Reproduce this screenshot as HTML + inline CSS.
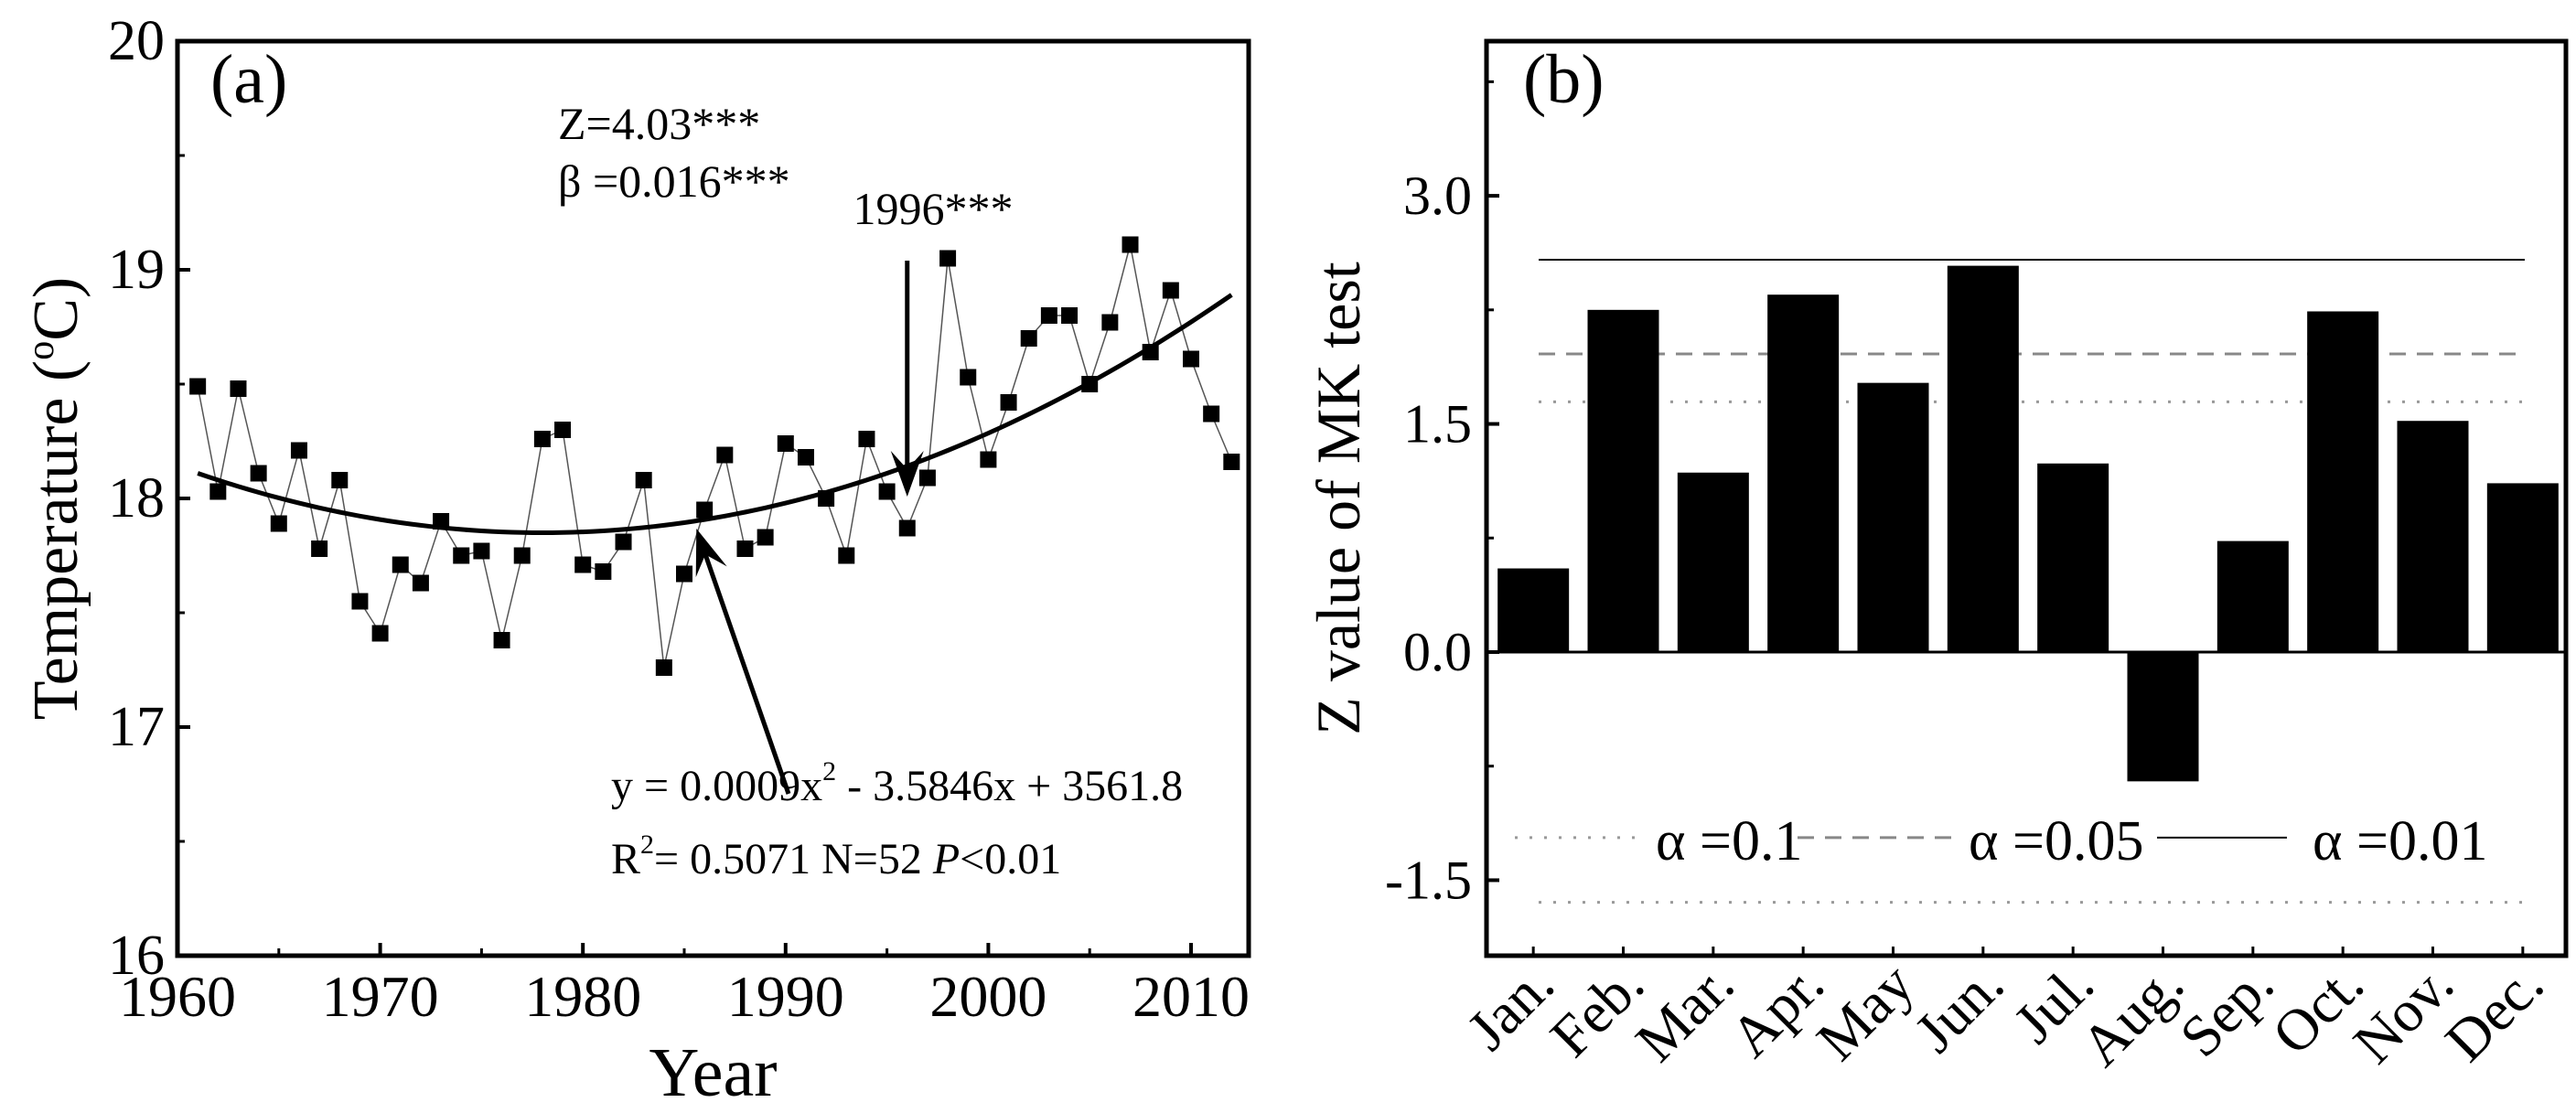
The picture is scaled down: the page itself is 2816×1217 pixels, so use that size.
<!DOCTYPE html>
<html><head><meta charset="utf-8">
<style>
html,body{margin:0;padding:0;background:#fff;}
svg{display:block;font-family:"Liberation Serif",serif;}
</style></head>
<body>
<svg id="chart" width="2816" height="1217" viewBox="0 0 2816 1217" xmlns="http://www.w3.org/2000/svg">
<g id="pa"></g>
<g id="pb"></g>
</svg>
<script>
// Panel (a) data
const years = [1961,1962,1963,1964,1965,1966,1967,1968,1969,1970,1971,1972,1973,1974,1975,1976,1977,1978,1979,1980,1981,1982,1983,1984,1985,1986,1987,1988,1989,1990,1991,1992,1993,1994,1995,1996,1997,1998,1999,2000,2001,2002,2003,2004,2005,2006,2007,2008,2009,2010,2011,2012];
const temps = [18.49,18.03,18.48,18.11,17.89,18.21,17.78,18.08,17.55,17.41,17.71,17.63,17.90,17.75,17.77,17.38,17.75,18.26,18.30,17.71,17.68,17.81,18.08,17.26,17.67,17.95,18.19,17.78,17.83,18.24,18.18,18.00,17.75,18.26,18.03,17.87,18.09,19.05,18.53,18.17,18.42,18.70,18.80,18.80,18.50,18.77,19.11,18.64,18.91,18.61,18.37,18.16];
const fitVertex = [1978, 17.85];
const fitCurv = 0.0009;
const aXTicks = [1960,1970,1980,1990,2000,2010];
const aYTicks = [16,17,18,19,20];
// Panel (b) data
const months = ["Jan.","Feb.","Mar.","Apr.","May","Jun.","Jul.","Aug.","Sep.","Oct.","Nov.","Dec."];
const zvals = [0.55,2.25,1.18,2.35,1.77,2.54,1.24,-0.85,0.73,2.24,1.52,1.11];
const bYTicks = [-1.5,0.0,1.5,3.0];
const bYTickLabels = ["-1.5","0.0","1.5","3.0"];
const critLevels = [2.58,1.96,1.645,-1.645];

const NS="http://www.w3.org/2000/svg";
function mk(parent,tag,attrs,text){const e=document.createElementNS(NS,tag);for(const k in attrs)e.setAttribute(k,attrs[k]);if(text!==undefined)e.textContent=text;parent.appendChild(e);return e;}

// ---------- Panel A ----------
const pa=document.getElementById('pa');
const aL=194,aR=1365,aT=45,aB=1045;
const ax=v=>aL+(v-1960)*(1302-194)/50;
const ay=v=>aB-(v-16)*(aB-aT)/4;
let r=mk(pa,'rect',{x:aL,y:aT,width:aR-aL,height:aB-aT,fill:'none',stroke:'#000','stroke-width':5});


aXTicks.forEach(t=>{
  let l=mk(pa,'line',{x1:ax(t),x2:ax(t),y1:aB,y2:aB-14,stroke:'#000','stroke-width':4});
  
  
  let tx=mk(pa,'text',{x:ax(t),y:aB+66,'font-size':64,'text-anchor':'middle'},String(t));
  
  
  if(t+5<2013){let m=mk(pa,'line',{x1:ax(t+5),x2:ax(t+5),y1:aB,y2:aB-8,stroke:'#000','stroke-width':3});
  
  }
});
aYTicks.forEach(t=>{
  let l=mk(pa,'line',{x1:aL,x2:aL+14,y1:ay(t),y2:ay(t),stroke:'#000','stroke-width':4});
  
  
  let tx=mk(pa,'text',{x:aL-14,y:ay(t)+20,'font-size':62,'text-anchor':'end'},String(t));
  
  
  if(t<20){let m=mk(pa,'line',{x1:aL,x2:aL+8,y1:ay(t+0.5),y2:ay(t+0.5),stroke:'#000','stroke-width':3});
  
  }
});
let xt=mk(pa,'text',{x:(aL+aR)/2,y:1198,'font-size':76,'text-anchor':'middle'},'Year');


let yt=mk(pa,'text',{x:0,y:0,'font-size':70,'text-anchor':'middle',transform:`translate(84,${(aT+aB)/2}) rotate(-90)`});


yt.innerHTML='Temperature (<tspan font-size="42" dy="-26">o</tspan><tspan dy="26">C)</tspan>';
let pl=mk(pa,'polyline',{points:years.map((y,i)=>ax(y)+','+ay(temps[i])).join(' '),fill:'none',stroke:'#555','stroke-width':1.5});


let fp=[];for(let y=1961;y<=2012;y+=0.5){fp.push(ax(y)+','+ay(fitVertex[1]+fitCurv*(y-fitVertex[0])**2));}
let fc=mk(pa,'polyline',{points:fp.join(' '),fill:'none',stroke:'#000','stroke-width':5});


years.forEach((y,i)=>{
  let s=mk(pa,'rect',{x:ax(y)-9,y:ay(temps[i])-9,width:18,height:18,fill:'#000'});
  
  
});
function txt(p,x,y,size,html,name,anchor){let t=mk(p,'text',{x:x,y:y,'font-size':size,'text-anchor':anchor||'start'});t.innerHTML=html;return t;}
txt(pa,230,112,76,'(a)','panel-a-label');
txt(pa,610,152,50,'Z=4.03***','z-statistic');
txt(pa,610,215,50,'β =0.016***','beta-statistic');
txt(pa,1020,245,50,'1996***','change-point-label','middle');
txt(pa,668,875,48,'y = 0.0009x<tspan font-size="30" dy="-22">2</tspan><tspan dy="22"> - 3.5846x + 3561.8</tspan>','fit-equation');
txt(pa,668,955,48,'R<tspan font-size="30" dy="-22">2</tspan><tspan dy="22">= 0.5071 N=52 </tspan><tspan font-style="italic">P</tspan>&lt;0.01','fit-stats');
function arrow(p,x1,y1,x2,y2,name){
  const g=mk(p,'g',{});
  const a=Math.atan2(y2-y1,x2-x1),L=50,W=18;
  mk(g,'line',{x1:x1,y1:y1,x2:x2-Math.cos(a)*20,y2:y2-Math.sin(a)*20,stroke:'#000','stroke-width':5});
  const bx=x2-Math.cos(a)*L,by=y2-Math.sin(a)*L,mx=x2-Math.cos(a)*L*0.6,my=y2-Math.sin(a)*L*0.6;
  mk(g,'polygon',{points:`${x2},${y2} ${bx+Math.sin(a)*W},${by-Math.cos(a)*W} ${mx},${my} ${bx-Math.sin(a)*W},${by+Math.cos(a)*W}`,fill:'#000'});
}
arrow(pa,ax(1996),285,ax(1996),543,'change-point-arrow');
arrow(pa,862,868,ax(1985.6),578,'fit-arrow');

// ---------- Panel B ----------
const pb=document.getElementById('pb');
const bL=1625,bR=2805,bT=45,bB=1045;
const by_=v=>713-v*166.3;
const bw=(bR-bL)/12;
const bx=i=>bL+bw*(i+0.5)+2;
let rb=mk(pb,'rect',{x:bL,y:bT,width:bR-bL,height:bB-bT,fill:'none',stroke:'#000','stroke-width':5});


bYTicks.forEach((t,i)=>{
  let l=mk(pb,'line',{x1:bL,x2:bL+14,y1:by_(t),y2:by_(t),stroke:'#000','stroke-width':4});
  
  
  let tx=mk(pb,'text',{x:bL-16,y:by_(t)+20,'font-size':60,'text-anchor':'end'},bYTickLabels[i]);
  
  
  let m=mk(pb,'line',{x1:bL,x2:bL+8,y1:by_(t+0.75),y2:by_(t+0.75),stroke:'#000','stroke-width':3});
  
  
});
let ybt=mk(pb,'text',{x:0,y:0,'font-size':68,'text-anchor':'middle',transform:`translate(1486,${(bT+bB)/2}) rotate(-90)`},'Z value of MK test');


txt(pb,1665,112,76,'(b)','panel-b-label');
const styles=[{stroke:'#000',dash:'none',w:2},{stroke:'#888',dash:'18,12',w:3},{stroke:'#999',dash:'3,13',w:3},{stroke:'#999',dash:'3,13',w:3}];
const cnames=['alpha-0.01-line','alpha-0.05-line','alpha-0.1-upper-line','alpha-0.1-lower-line'];
critLevels.forEach((c,i)=>{
  let l=mk(pb,'line',{x1:1682,x2:2760,y1:by_(c),y2:by_(c),stroke:styles[i].stroke,'stroke-width':styles[i].w,'stroke-dasharray':styles[i].dash});
  
  
});
zvals.forEach((v,i)=>{
  let b=mk(pb,'rect',{x:bx(i)-39,y:Math.min(by_(v),by_(0)),width:78,height:Math.abs(by_(v)-by_(0)),fill:'#000'});
  
  
  let t=mk(pb,'line',{x1:bx(i),x2:bx(i),y1:bB,y2:bB-10,stroke:'#000','stroke-width':3});
  
  
  let lb=mk(pb,'text',{x:0,y:0,'font-size':64,'text-anchor':'end',transform:`translate(${bx(i)+26},${1080}) rotate(-45)`},months[i]);
  
  
});
let zl=mk(pb,'line',{x1:bL,x2:bR,y1:by_(0),y2:by_(0),stroke:'#000','stroke-width':3});


const ly=by_(-1.22);
const lg=mk(pb,'g',{});
mk(lg,'line',{x1:1656,x2:1790,y1:ly,y2:ly,stroke:'#999','stroke-width':3,'stroke-dasharray':'3,13'});
txt(lg,1810,ly+24,62,'α =0.1','legend-alpha-0.1');
mk(lg,'line',{x1:1965,x2:2140,y1:ly,y2:ly,stroke:'#888','stroke-width':3,'stroke-dasharray':'18,12'});
txt(lg,2152,ly+24,62,'α =0.05','legend-alpha-0.05');
mk(lg,'line',{x1:2358,x2:2500,y1:ly,y2:ly,stroke:'#000','stroke-width':2});
txt(lg,2528,ly+24,62,'α =0.01','legend-alpha-0.01');
</script>
</body></html>
